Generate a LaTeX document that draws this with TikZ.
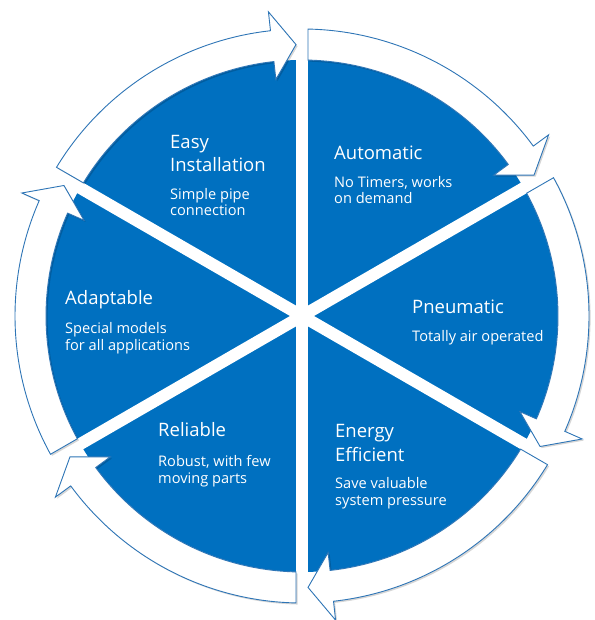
\documentclass[tikz,border=0pt]{standalone}
\usepackage{fontspec}
\setmainfont{Open Sans}
\definecolor{pieblue}{RGB}{0,112,192}
\definecolor{edgeblue}{RGB}{46,117,182}
\newcommand\cycpath{(6,286.94) arc[start angle=88.80, end angle=36.3, radius=287] -- (36.3:306) -- (31.27:271.5) -- (36.3:238) -- (36.3:256) arc[start angle=36.3, end angle=88.66, radius=256] -- cycle}
\begin{document}
\begin{tikzpicture}[x=1pt,y=1pt,
  title/.style={text=white, font=\fontsize{18.5}{22}\selectfont, anchor=base west, inner sep=0pt},
  sub/.style={text=white, font=\fontsize{14.6}{17}\selectfont, anchor=base west, inner sep=0pt},
  arrowband/.style={fill=white, draw=edgeblue, line width=0.9pt, line join=miter},
  shadowband/.style={fill=black, opacity=0.16},
  spoke/.style={draw=white, line width=12pt}]
\useasboundingbox (0,0) rectangle (594,620);
\coordinate (O) at (302,304);
\fill[pieblue] (O) circle[radius=256];
\foreach \a in {90,30,-30,-90,-150,150} \draw[spoke] (O) -- ++(\a:262);
% shadows
\foreach \k in {0,...,5}{
  \begin{scope}[shift={(303.6,302.4)}, rotate=-60*\k]
    \fill[shadowband] \cycpath;
  \end{scope}
}
% arrows
\foreach \k in {0,...,5}{
  \begin{scope}[shift={(O)}, rotate=-60*\k]
    \draw[arrowband] \cycpath;
  \end{scope}
}
% texts
\node[title] (e1) at (170,471.7) {Easy};
\node[title] (e2) at (170,448.3) {Installation};
\node[sub] (e3) at (170,420.7) {Simple pipe};
\node[sub] (e4) at (170,404.2) {connection};
\node[title] (a1) at (334,460) {Automatic};
\node[sub] (a2) at (334,432.5) {No Timers, works};
\node[sub] (a3) at (334,416) {on demand};
\node[title] (p1) at (412,306) {Pneumatic};
\node[sub] (p2) at (412,278) {Totally air operated};
\node[title] (n1) at (335,182) {Energy};
\node[title] (n2) at (335,158.6) {Efficient};
\node[sub] (n3) at (335,131) {Save valuable};
\node[sub] (n4) at (335,114.5) {system pressure};
\node[title] (r1) at (158,183) {Reliable};
\node[sub] (r2) at (158,153) {Robust, with few};
\node[sub] (r3) at (158,136.5) {moving parts};
\node[title] (d1) at (65,315) {Adaptable};
\node[sub] (d2) at (65,286) {Special models};
\node[sub] (d3) at (65,269.5) {for all applications};
\end{tikzpicture}
\end{document}
